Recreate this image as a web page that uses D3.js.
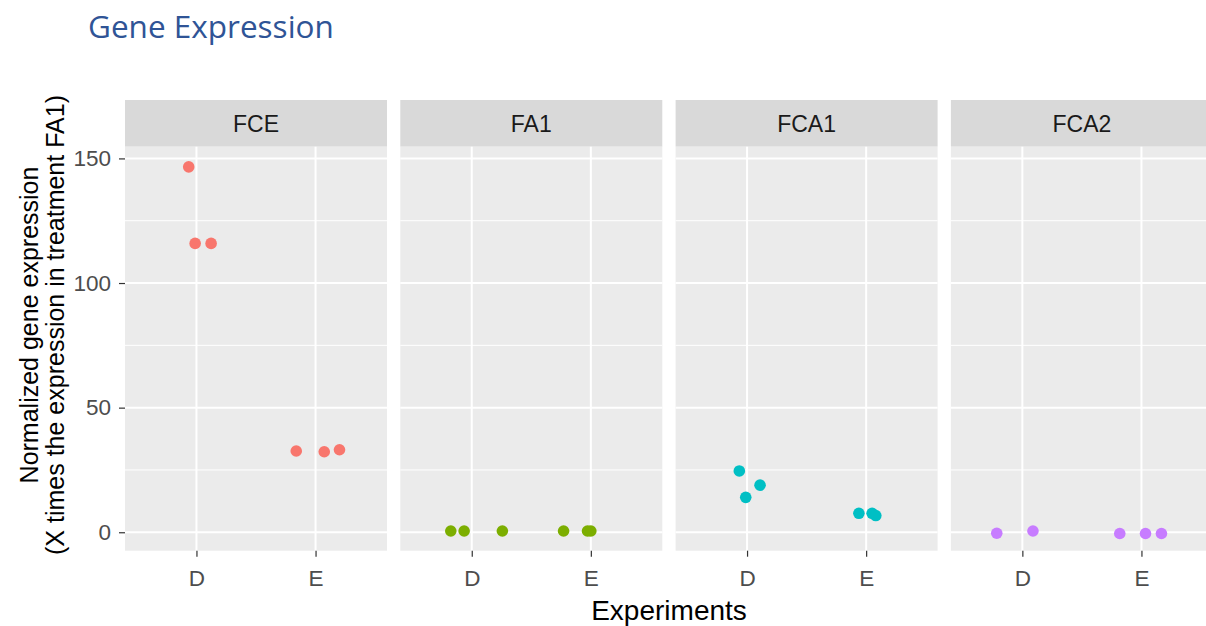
<html>
<head>
  <script src="https://d3js.org/d3.v7.min.js"></script>
  <style>
    body { margin: 0; background: white; }
    text { font-family: "Liberation Sans", Arial, sans-serif; }
    .tick line { stroke: #333; stroke-width: 1.2; }
    .tick text { fill: #4d4d4d; font-size: 22.5px; }
    .domain { display: none; }
  </style>
</head>
<body>
  <svg id="chart" width="1206" height="626"></svg>
  <script>
    // facets, categories and the values
    const facets = ["FCE", "FA1", "FCA1", "FCA2"];
    const experiments = ["D", "E"];
    const yTicks = [0, 50, 100, 150];
    const yMinor = [25, 75, 125];
    const colors = ["#F8766D", "#7CAE00", "#00BFC4", "#C77CFF"];

    // one row per point: facet, experiment, value, jitter (in category units)
    const pointFacet = ["FCE", "FCE", "FCE", "FCE", "FCE", "FCE",
      "FA1", "FA1", "FA1", "FA1", "FA1", "FA1",
      "FCA1", "FCA1", "FCA1", "FCA1", "FCA1", "FCA1",
      "FCA2", "FCA2", "FCA2", "FCA2", "FCA2"];
    const pointExp = ["D", "D", "D", "E", "E", "E",
      "D", "D", "D", "E", "E", "E",
      "D", "D", "D", "E", "E", "E",
      "D", "D", "E", "E", "E"];
    const pointValue = [146.6, 115.9, 115.9, 32.6, 32.3, 33.1,
      0.5, 0.5, 0.5, 0.5, 0.5, 0.5,
      24.6, 14.0, 18.9, 7.6, 7.6, 6.7,
      -0.4, 0.5, -0.5, -0.5, -0.5];
    const pointJitter = [-0.065, -0.011, 0.123, -0.162, 0.073, 0.201,
      -0.176, -0.064, 0.257, -0.229, -0.028, 0.0,
      -0.065, -0.011, 0.109, -0.061, 0.050, 0.081,
      -0.215, 0.089, -0.182, 0.034, 0.168];

    const points = pointValue.map((v, i) => ({
      facet: pointFacet[i], exp: pointExp[i], value: v, jitter: pointJitter[i]
    }));

    const svg = d3.select("#chart");
    const panelTop = 146.7, panelBottom = 550.7, stripTop = 100;

    const facetScale = d3.scaleBand().domain(facets)
      .range([125, 125 + 4 * 275.3 - 13.3]).paddingInner(13.3 / 275.3);
    const pw = facetScale.bandwidth();
    const yScale = d3.scaleLinear().domain([-7.4, 154.7]).range([panelBottom, panelTop]);
    const xScale = d3.scaleLinear().domain([0.4, 2.6]).range([0, pw]);
    const colorScale = d3.scaleOrdinal().domain(facets).range(colors);

    // title
    svg.append("text")
      .attr("x", 88).attr("y", 37.5)
      .style("font-family", "'Open Sans', sans-serif")
      .style("font-size", "31.5px")
      .attr("fill", "#2F5496")
      .text("Gene Expression");

    facets.forEach(f => {
      const g = svg.append("g").attr("transform", `translate(${facetScale(f)},0)`);

      // strip
      g.append("rect").attr("x", 0).attr("y", stripTop)
        .attr("width", pw).attr("height", panelTop - stripTop).attr("fill", "#D9D9D9");
      g.append("text").attr("x", pw / 2).attr("y", (stripTop + panelTop) / 2)
        .attr("text-anchor", "middle").attr("dy", "0.36em")
        .style("font-size", "23px").attr("fill", "#1A1A1A").text(f);

      // panel
      g.append("rect").attr("x", 0).attr("y", panelTop)
        .attr("width", pw).attr("height", panelBottom - panelTop).attr("fill", "#EBEBEB");

      g.selectAll("line.minor").data(yMinor).join("line").attr("class", "minor")
        .attr("x1", 0).attr("x2", pw)
        .attr("y1", d => yScale(d)).attr("y2", d => yScale(d))
        .attr("stroke", "white").attr("stroke-width", 1);
      g.selectAll("line.major").data(yTicks).join("line").attr("class", "major")
        .attr("x1", 0).attr("x2", pw)
        .attr("y1", d => yScale(d)).attr("y2", d => yScale(d))
        .attr("stroke", "white").attr("stroke-width", 2);
      g.selectAll("line.vmajor").data([1, 2]).join("line").attr("class", "vmajor")
        .attr("x1", d => xScale(d)).attr("x2", d => xScale(d))
        .attr("y1", panelTop).attr("y2", panelBottom)
        .attr("stroke", "white").attr("stroke-width", 2);

      // points
      g.selectAll("circle").data(points.filter(p => p.facet === f)).join("circle")
        .attr("cx", d => xScale(experiments.indexOf(d.exp) + 1 + d.jitter))
        .attr("cy", d => yScale(d.value))
        .attr("r", 5.8)
        .attr("fill", colorScale(f));

      // x axis
      g.append("g").attr("transform", `translate(0,${panelBottom})`)
        .call(d3.axisBottom(xScale).tickValues([1, 2])
          .tickFormat(d => experiments[d - 1]).tickSize(6).tickPadding(13));
    });

    // y axis
    svg.append("g").attr("transform", `translate(125,0)`)
      .call(d3.axisLeft(yScale).tickValues(yTicks).tickSize(6).tickPadding(8));

    // axis titles
    svg.append("text").attr("x", 669).attr("y", 620)
      .attr("text-anchor", "middle").style("font-size", "28px").attr("fill", "black")
      .text("Experiments");

    const yTitle = svg.append("text")
      .attr("transform", "translate(43,325) rotate(-90)")
      .attr("text-anchor", "middle").style("font-size", "25px").attr("fill", "black");
    yTitle.append("tspan").attr("x", 0).attr("dy", "-0.2em").text("Normalized gene expression");
    yTitle.append("tspan").attr("x", 0).attr("dy", "1.05em").text("(X times the expression in treatment FA1)");
  </script>
</body>
</html>
